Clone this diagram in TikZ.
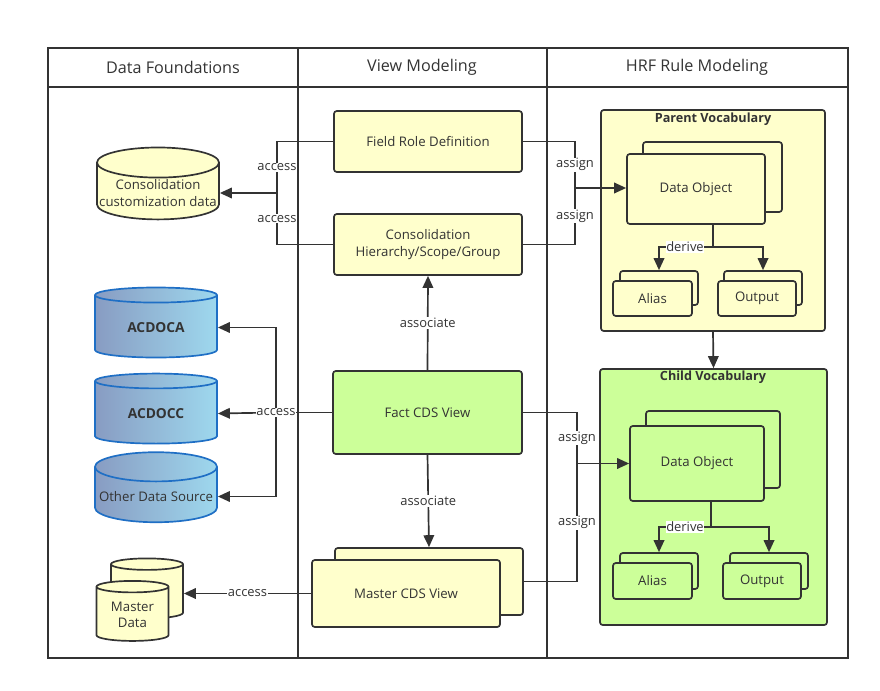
\documentclass[tikz,border=0pt]{standalone}
\usepackage{fontspec}
\setmainfont{Open Sans}
\usetikzlibrary{arrows.meta, positioning, shapes.geometric}

\definecolor{boxyellow}{HTML}{FFFFCC}
\definecolor{boxgreen}{HTML}{CCFF99}
\definecolor{linegray}{HTML}{333333}
\definecolor{dbblue}{HTML}{1F6FC5}
\definecolor{dbleft}{HTML}{889CC2}
\definecolor{dbright}{HTML}{9ED8EE}

\begin{document}
\begin{tikzpicture}[
    x=0.025cm, y=-0.025cm,
    every node/.style={text=linegray},
    myhead/.style={font=\fontsize{11.5}{13}\selectfont},
    mybox/.style={rectangle, rounded corners=2pt, draw=linegray, line width=1.2pt, fill=boxyellow, align=center, inner sep=2pt, font=\fontsize{9.4}{11.5}\selectfont},
    mygroup/.style={rectangle, rounded corners=2pt, draw=linegray, line width=1.2pt, fill=boxyellow},
    mytitle/.style={font=\bfseries\fontsize{9}{10}\selectfont},
    mydb/.style={cylinder, shape border rotate=90, aspect=0.25, draw=linegray, line width=1.2pt, fill=boxyellow, align=center, inner sep=1pt, font=\fontsize{9.4}{11.5}\selectfont},
    mybluedb/.style={mydb, draw=dbblue, left color=dbleft, right color=dbright},
    mylabel/.style={fill=white, inner sep=0.5pt, font=\fontsize{9.2}{10}\selectfont},
    myline/.style={draw=linegray, line width=1.2pt},
    myarrow/.style={myline, -{Triangle[length=8.5pt, width=7.5pt]}}
]
\useasboundingbox (0,0) rectangle (880,690);

% Lanes
\draw[linegray, line width=1.3pt] (48,48) rectangle (848,658);
\draw[linegray, line width=1.3pt] (48,87) -- (848,87);
\draw[linegray, line width=1.3pt] (298,48) -- (298,658);
\draw[linegray, line width=1.3pt] (547,48) -- (547,658);
\node[myhead] (HeadData) at (173,67) {Data Foundations};
\node[myhead] (HeadView) at (422,67) {View Modeling};
\node[myhead] (HeadRule) at (697,67) {HRF Rule Modeling};

% Data foundations
\node[mydb, minimum width=3.05cm, minimum height=1.7cm] (ConsData) at (158,193) {Consolidation\\customization data};
\node[mybluedb, minimum width=3.05cm, minimum height=1.75cm, font=\bfseries\fontsize{9.8}{11}\selectfont] (Acdoca) at (156,327.5) {ACDOCA};
\node[mybluedb, minimum width=3.05cm, minimum height=1.75cm, font=\bfseries\fontsize{9.8}{11}\selectfont] (Acdocc) at (156,413.5) {ACDOCC};
\node[mybluedb, minimum width=3.05cm, minimum height=1.75cm] (OtherData) at (156,496.5) {Other Data Source};
\node[mydb, minimum width=1.8cm, minimum height=1.5cm] (MasterDataBack) at (147,592.5) {\phantom{Master}\\\phantom{Data}};
\node[mydb, minimum width=1.8cm, minimum height=1.5cm] (MasterData) at (132.5,615) {Master\\Data};

% View modeling
\node[mybox, minimum width=4.7cm, minimum height=1.525cm] (FieldRole) at (428,141.5) {Field Role Definition};
\node[mybox, minimum width=4.7cm, minimum height=1.525cm] (ConsHier) at (428,244.5) {Consolidation\\Hierarchy/Scope/Group};
\node[mybox, minimum width=4.725cm, minimum height=2.075cm, fill=boxgreen] (FactView) at (427.5,412.5) {Fact CDS View};
\node[mybox, minimum width=4.7cm, minimum height=1.675cm] (MasterViewBack) at (429,581.5) {};
\node[mybox, minimum width=4.7cm, minimum height=1.675cm] (MasterView) at (406,593.5) {Master CDS View};

% Parent vocabulary
\node[mygroup, minimum width=5.6cm, minimum height=5.525cm] (ParentVoc) at (713,220.5) {};
\node[mytitle] (ParentTitle) at (713,119) {Parent Vocabulary};
\node[mybox, minimum width=3.475cm, minimum height=1.75cm] (DataObjPBack) at (712.5,177) {};
\node[mybox, minimum width=3.45cm, minimum height=1.75cm] (DataObjP) at (696,189) {Data Object};
\node[mybox, minimum width=1.95cm, minimum height=0.85cm] (AliasPBack) at (659,288) {};
\node[mybox, minimum width=1.975cm, minimum height=0.875cm] (AliasP) at (652.5,298.5) {Alias};
\node[mybox, minimum width=1.95cm, minimum height=0.85cm] (OutputPBack) at (763,288) {};
\node[mybox, minimum width=1.95cm, minimum height=0.875cm] (OutputP) at (757,298.5) {Output};

% Child vocabulary
\node[mygroup, minimum width=5.675cm, minimum height=6.4cm, fill=boxgreen] (ChildVoc) at (713.5,497) {};
\node[mytitle] (ChildTitle) at (713,377) {Child Vocabulary};
\node[mybox, minimum width=3.35cm, minimum height=1.925cm, fill=boxgreen] (DataObjCBack) at (713,449.5) {};
\node[mybox, minimum width=3.35cm, minimum height=1.875cm, fill=boxgreen] (DataObjC) at (697,463.5) {Data Object};
\node[mybox, minimum width=1.95cm, minimum height=0.9cm, fill=boxgreen] (AliasCBack) at (659,571) {};
\node[mybox, minimum width=1.975cm, minimum height=0.9cm, fill=boxgreen] (AliasC) at (652.5,581) {Alias};
\node[mybox, minimum width=1.95cm, minimum height=0.9cm, fill=boxgreen] (OutputCBack) at (769,571) {};
\node[mybox, minimum width=1.95cm, minimum height=0.9cm, fill=boxgreen] (OutputC) at (762,581) {Output};

% Junctions
\coordinate (AccessA) at (277,193);
\coordinate (AccessB) at (276,412.5);
\coordinate (AssignP) at (575,188);
\coordinate (AssignC) at (577,463.5);
\coordinate (DeriveP) at (713,247);
\coordinate (DeriveC) at (711,527);

% Paths
\draw[myline] (FieldRole.west) -| node[pos=0.75, mylabel] {access} (AccessA);
\draw[myline] (ConsHier.west) -| node[pos=0.75, mylabel] {access} (AccessA);
\draw[myarrow] (AccessA) -- (ConsData.east);
\draw[myline] (FactView.west) -- (AccessB);
\draw[myarrow] (AccessB) |- (Acdoca.east);
\draw[myarrow] (AccessB) -- (Acdocc.east);
\draw[myarrow] (AccessB) |- (OtherData.east);
\node[mylabel] (AccessLbl) at (AccessB) {access};
\draw[myarrow] (MasterView.west) -- node[mylabel] {access} (MasterView.west -| MasterDataBack.east);
\draw[myarrow] (FactView.north) -- node[mylabel] {associate} (ConsHier.south);
\draw[myarrow] (FactView.south) -- node[mylabel] {associate} (MasterViewBack.north);
\draw[myline] (FieldRole.east) -| node[pos=0.75, mylabel] {assign} (AssignP);
\draw[myline] (ConsHier.east) -| node[pos=0.75, mylabel] {assign} (AssignP);
\draw[myarrow] (AssignP) -- (AssignP -| DataObjP.west);
\draw[myline] (FactView.east) -| node[pos=0.75, mylabel] {assign} (AssignC);
\draw[myline] (MasterViewBack.east) -| node[pos=0.75, mylabel] {assign} (AssignC);
\draw[myarrow] (AssignC) -- (DataObjC.west);
\draw[myline] (DataObjP.south -| DeriveP) -- (DeriveP);
\draw[myarrow] (DeriveP) -| (AliasPBack.north);
\draw[myarrow] (DeriveP) -| (OutputPBack.north);
\node[mylabel] (DerivePLbl) at (685,247) {derive};
\draw[myline] (DataObjC.south -| DeriveC) -- (DeriveC);
\draw[myarrow] (DeriveC) -| (AliasCBack.north);
\draw[myarrow] (DeriveC) -| (OutputCBack.north);
\node[mylabel] (DeriveCLbl) at (685,527) {derive};
\draw[myarrow] (ParentVoc.south) -- (ChildVoc.north);

\end{tikzpicture}
\end{document}
